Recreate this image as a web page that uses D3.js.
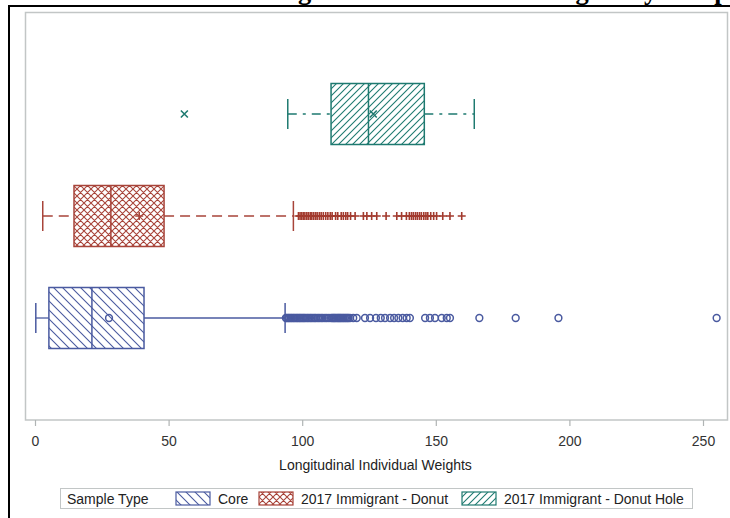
<!DOCTYPE html>
<html>
<head>
<meta charset="utf-8">
<script src="https://cdn.jsdelivr.net/npm/d3@7"></script>
<style>
  body { margin: 0; background: #fff; }
  svg { display: block; }
</style>
</head>
<body>
<script>
// box plot summary
const categories = ["Core", "2017 Immigrant - Donut", "2017 Immigrant - Donut Hole"];
const whiskerLow = [0.3, 2.9, 94.6];
const q1 = [5.2, 14.6, 110.8];
const median = [21.3, 28.4, 124.8];
const q3 = [40.8, 48.3, 145.7];
const whiskerHigh = [93.6, 96.7, 164.4];
const means = [27.7, 39.0, 126.6];

// outliers per group
const coreOutliers = [93.9, 94.3, 94.8, 95.2, 95.7, 96.1, 96.6, 97.0, 97.5, 98.0, 98.4, 98.9, 99.3, 99.8,
  100.3, 100.7, 101.2, 101.8, 102.3, 102.9, 103.4, 104.0, 104.6, 105.1, 105.8, 106.4, 107.1, 107.7,
  108.5, 109.2, 110.0, 110.8, 111.3, 111.7, 112.1, 112.5, 113.0, 113.4, 113.8, 114.2, 114.6, 115.1,
  115.5, 116.0, 116.4, 116.9, 117.3, 117.9, 119.1, 120.4,
  123.5, 125.4, 127.6, 129.4, 131.0, 132.9, 134.4, 136.0, 137.6, 139.1, 140.3, 146.0, 147.8, 149.7,
  152.2, 154.1, 155.3, 166.3, 179.9, 195.9, 255.1];
const donutOutliers = [98.6, 99.2, 99.8, 100.4, 101.0, 101.7, 102.3, 103.0, 103.6, 104.3, 105.0, 105.6,
  106.4, 107.1, 107.9, 108.8, 109.6, 110.5, 111.2, 112.5, 113.3, 114.6, 115.4, 116.3, 117.0, 118.1,
  119.8, 122.9, 124.2, 126.0, 127.9, 131.4, 135.4, 137.2, 139.0, 140.1, 140.9, 141.6, 142.4, 143.1,
  143.9, 144.6, 145.5, 146.3, 147.0, 148.1, 149.2, 150.3, 152.6, 155.3, 159.7];
const holeOutliers = [55.9];

const xTicks = [0, 50, 100, 150, 200, 250];
const titleText = "Distribution of Longitudinal Individual Weights by Sample Type";
const xLabel = "Longitudinal Individual Weights";
const legendTitle = "Sample Type";

const colors = ["#4a5aa0", "#a8443a", "#1e7a70"];
const patterns = ["pat-core", "pat-donut", "pat-hole"];
const dashes = [null, "10,6", "9,6,3,6"];

const svg = d3.select("body").append("svg")
    .attr("width", 730)
    .attr("height", 518)
    .style("font-family", "'Liberation Sans', Arial, sans-serif");

// fill patterns
const defs = svg.append("defs");
let p = defs.append("pattern").attr("id", "pat-core").attr("patternUnits", "userSpaceOnUse")
  .attr("width", 9).attr("height", 9);
p.append("path").attr("d", "M0,0L9,9M-4.5,4.5L4.5,13.5M4.5,-4.5L13.5,4.5")
  .attr("stroke", colors[0]).attr("stroke-width", 1.1);

p = defs.append("pattern").attr("id", "pat-donut").attr("patternUnits", "userSpaceOnUse")
  .attr("width", 7).attr("height", 7);
p.append("path").attr("d", "M0,0L7,7M-3.5,3.5L3.5,10.5M3.5,-3.5L10.5,3.5M0,7L7,0M-3.5,3.5L3.5,-3.5M3.5,10.5L10.5,3.5")
  .attr("stroke", colors[1]).attr("stroke-width", 1.1);

p = defs.append("pattern").attr("id", "pat-hole").attr("patternUnits", "userSpaceOnUse")
  .attr("width", 7).attr("height", 7);
p.append("path").attr("d", "M0,7L7,0M-3.5,3.5L3.5,-3.5M3.5,10.5L10.5,3.5")
  .attr("stroke", colors[2]).attr("stroke-width", 1.1);

// title (mostly cut off at the top, like the source image)
let title = svg.append("text")
    .text(titleText)
    .attr("y", -1)
    .attr("font-family", "'Liberation Serif', 'Times New Roman', serif")
    .attr("font-weight", "bold")
    .attr("font-size", 26.6);
let off = title.node().getSubStringLength(0, titleText.indexOf("Longitudinal") + 3);
title.attr("x", 298 - off);

// black outer frame (top + left)
svg.append("path")
    .attr("d", "M9,518L9,6L730,6")
    .attr("fill", "none")
    .attr("stroke", "#000")
    .attr("stroke-width", 2);

// plot frame
svg.append("rect")
    .attr("x", 25.5).attr("y", 12.5)
    .attr("width", 702).attr("height", 407.5)
    .attr("fill", "none")
    .attr("stroke", "#c2c6c6")
    .attr("stroke-width", 1.5);

const x = d3.scaleLinear().domain([0, 250]).range([35, 703]);
const y = d3.scalePoint().domain(categories.slice().reverse()).range([12, 420]).padding(1);
const boxH = 61;

// x axis
const axis = svg.append("g")
    .attr("transform", "translate(0,420)")
    .call(d3.axisBottom(x).tickValues(xTicks).tickSize(6).tickPadding(10));
axis.select(".domain").remove();
axis.selectAll(".tick line").attr("stroke", "#b0b4b4").attr("stroke-width", 1.2);
axis.selectAll(".tick text")
    .attr("fill", "#333")
    .attr("font-size", 14)
    .attr("font-family", "'Liberation Sans', Arial, sans-serif");

svg.append("text")
    .attr("x", 375.5).attr("y", 470)
    .attr("text-anchor", "middle")
    .attr("font-size", 14)
    .attr("fill", "#222")
    .text(xLabel);

// boxes
categories.forEach(function(cat, i) {
  let cy = y(cat);
  let g = svg.append("g");
  let c = colors[i];

  // whiskers
  g.append("line")
    .attr("x1", x(whiskerLow[i])).attr("x2", x(q1[i]))
    .attr("y1", cy).attr("y2", cy)
    .attr("stroke", c).attr("stroke-width", 1.3)
    .attr("stroke-dasharray", dashes[i]);
  g.append("line")
    .attr("x1", x(q3[i])).attr("x2", x(whiskerHigh[i]))
    .attr("y1", cy).attr("y2", cy)
    .attr("stroke", c).attr("stroke-width", 1.3)
    .attr("stroke-dasharray", dashes[i]);
  [whiskerLow[i], whiskerHigh[i]].forEach(function(v) {
    g.append("line")
      .attr("x1", x(v)).attr("x2", x(v))
      .attr("y1", cy - 15).attr("y2", cy + 15)
      .attr("stroke", c).attr("stroke-width", 1.5);
  });

  // box
  g.append("rect")
    .attr("x", x(q1[i])).attr("y", cy - boxH / 2)
    .attr("width", x(q3[i]) - x(q1[i])).attr("height", boxH)
    .attr("fill", "#fff");
  g.append("rect")
    .attr("x", x(q1[i])).attr("y", cy - boxH / 2)
    .attr("width", x(q3[i]) - x(q1[i])).attr("height", boxH)
    .attr("fill", "url(#" + patterns[i] + ")")
    .attr("stroke", c).attr("stroke-width", 1.5);
  g.append("line")
    .attr("x1", x(median[i])).attr("x2", x(median[i]))
    .attr("y1", cy - boxH / 2).attr("y2", cy + boxH / 2)
    .attr("stroke", c).attr("stroke-width", 1.5);
});

// markers
function drawMarker(g, kind, px, py, c) {
  if (kind == 0) {
    g.append("circle").attr("cx", px).attr("cy", py).attr("r", 3.4)
      .attr("fill", "none").attr("stroke", c).attr("stroke-width", 1.5);
  } else if (kind == 1) {
    g.append("path").attr("d", "M" + (px - 4) + "," + py + "h8M" + px + "," + (py - 4) + "v8")
      .attr("stroke", c).attr("stroke-width", 1.6);
  } else {
    g.append("path").attr("d", "M" + (px - 3.5) + "," + (py - 3.5) + "l7,7M" + (px - 3.5) + "," + (py + 3.5) + "l7,-7")
      .attr("stroke", c).attr("stroke-width", 1.6);
  }
}

const outliers = [coreOutliers, donutOutliers, holeOutliers];
categories.forEach(function(cat, i) {
  let g = svg.append("g");
  let cy = y(cat);
  drawMarker(g, i, x(means[i]), cy, colors[i]);
  outliers[i].forEach(function(v) {
    drawMarker(g, i, x(v), cy, i == 1 ? "#a23a2e" : colors[i]);
  });
});

// legend
const lg = svg.append("g");
lg.append("rect")
    .attr("x", 60.5).attr("y", 488.5)
    .attr("width", 632).attr("height", 20)
    .attr("fill", "#fff")
    .attr("stroke", "#c2c6c6");
lg.append("text").attr("x", 67).attr("y", 503.5)
    .attr("font-size", 14).attr("fill", "#222").text(legendTitle);

const swatchX = [176, 259, 462];
categories.forEach(function(cat, i) {
  lg.append("rect")
    .attr("x", swatchX[i]).attr("y", 492)
    .attr("width", 34).attr("height", 13)
    .attr("fill", "url(#" + patterns[i] + ")")
    .attr("stroke", colors[i]).attr("stroke-width", 1.2);
  lg.append("text")
    .attr("x", swatchX[i] + 42).attr("y", 503.5)
    .attr("font-size", 14).attr("fill", "#222")
    .text(cat);
});
</script>
</body>
</html>
